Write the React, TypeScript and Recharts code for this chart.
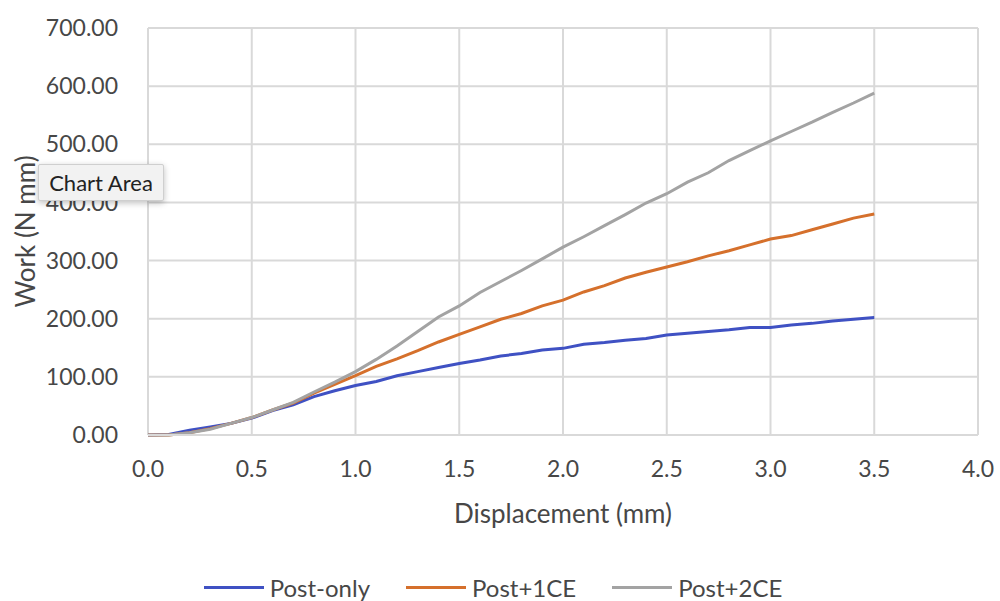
import React from "react";
import {
  LineChart,
  Line,
  XAxis,
  YAxis,
  CartesianGrid,
  Legend,
} from "recharts";

const displacement = [
  0, 0.1, 0.2, 0.3, 0.4, 0.5, 0.6, 0.7, 0.8, 0.9, 1.0, 1.1, 1.2, 1.3, 1.4, 1.5, 1.6, 1.7,
  1.8, 1.9, 2.0, 2.1, 2.2, 2.3, 2.4, 2.5, 2.6, 2.7, 2.8, 2.9, 3.0, 3.1, 3.2, 3.3, 3.4, 3.5,
];

const postOnly = [
  0, 1, 8, 14, 20, 29, 42, 52, 66, 76, 85, 92, 102, 109, 116, 123, 129, 136,
  140, 146, 149, 156, 159, 163, 166, 172, 175, 178, 181, 185, 185, 189, 192, 196, 199, 202,
];

const post1CE = [
  0, 0, 4, 11, 20, 30, 43, 55, 72, 87, 102, 118, 131, 145, 160, 173, 186, 199,
  209, 222, 232, 246, 257, 270, 280, 289, 298, 308, 317, 327, 337, 343, 353, 363, 373, 380,
];

const post2CE = [
  0, 0, 4, 10, 20, 30, 43, 56, 74, 91, 109, 130, 153, 178, 203, 222, 245, 264,
  283, 303, 323, 341, 360, 379, 399, 415, 435, 451, 472, 489, 506, 522, 538, 555, 571, 588,
];

const xTicks = [0, 0.5, 1, 1.5, 2, 2.5, 3, 3.5, 4];
const yTicks = [0, 100, 200, 300, 400, 500, 600, 700];

const FONT = "Lato, 'Open Sans', sans-serif";
const TEXT = "#474747";

const series = [
  { key: "postOnly", name: "Post-only", color: "#3f51c3" },
  { key: "post1CE", name: "Post+1CE", color: "#d5702c" },
  { key: "post2CE", name: "Post+2CE", color: "#a3a3a3" },
];

// legend in series order (recharts sorts by name otherwise)
function LegendRow() {
  return (
    <div style={{ display: "flex", justifyContent: "center", gap: 36, paddingTop: 38, paddingLeft: 8 }}>
      {series.map((s) => (
        <div key={s.key} style={{ display: "flex", alignItems: "center" }}>
          <span style={{ display: "inline-block", width: 60, height: 3, background: s.color, marginRight: 6 }} />
          <span style={{ fontFamily: FONT, fontSize: 24, color: TEXT }}>{s.name}</span>
        </div>
      ))}
    </div>
  );
}

export default function App() {
  const data = displacement.map((d, i) => ({
    d,
    postOnly: postOnly[i],
    post1CE: post1CE[i],
    post2CE: post2CE[i],
  }));

  return (
    <div style={{ position: "absolute", left: 0, top: 0, width: 1000, height: 601, background: "#fff" }}>
      <LineChart
        width={1000}
        height={601}
        data={data}
        margin={{ top: 28, right: 22, bottom: 0, left: 0 }}
      >
        <CartesianGrid stroke="#d9d9d9" strokeWidth={2} />
        <XAxis
          dataKey="d"
          type="number"
          domain={[0, 4]}
          ticks={xTicks}
          tickFormatter={(v: number) => v.toFixed(1)}
          tick={{ fill: TEXT, fontSize: 23, fontFamily: FONT }}
          tickLine={false}
          axisLine={{ stroke: "#d9d9d9", strokeWidth: 2 }}
          tickMargin={20}
          height={100}
          label={{
            value: "Displacement (mm)",
            position: "insideTop",
            offset: 70,
            fill: TEXT,
            fontSize: 26,
            fontFamily: FONT,
          }}
        />
        <YAxis
          type="number"
          domain={[0, 700]}
          ticks={yTicks}
          tickFormatter={(v: number) => v.toFixed(2)}
          tick={{ fill: TEXT, fontSize: 23, fontFamily: FONT }}
          tickLine={false}
          axisLine={false}
          tickMargin={24}
          width={148}
          label={{
            value: "Work (N mm)",
            angle: -90,
            position: "insideLeft",
            offset: 26,
            style: { textAnchor: "middle" },
            fill: TEXT,
            fontSize: 26,
            fontFamily: FONT,
          }}
        />
        <Legend verticalAlign="bottom" height={66} content={<LegendRow />} />
        {series.map((s) => (
          <Line
            key={s.key}
            dataKey={s.key}
            name={s.name}
            stroke={s.color}
            strokeWidth={3}
            dot={false}
            type="linear"
            isAnimationActive={false}
          />
        ))}
      </LineChart>
      <div
        style={{
          position: "absolute",
          left: 38,
          top: 164,
          width: 124,
          height: 35,
          background: "#f2f2f2",
          border: "1px solid #cfcfcf",
          borderRadius: 2,
          boxShadow: "0 2px 6px rgba(0,0,0,0.25)",
          fontFamily: FONT,
          fontSize: 22,
          color: "#222",
          lineHeight: "35px",
          textAlign: "center",
        }}
      >
        Chart Area
      </div>
    </div>
  );
}
